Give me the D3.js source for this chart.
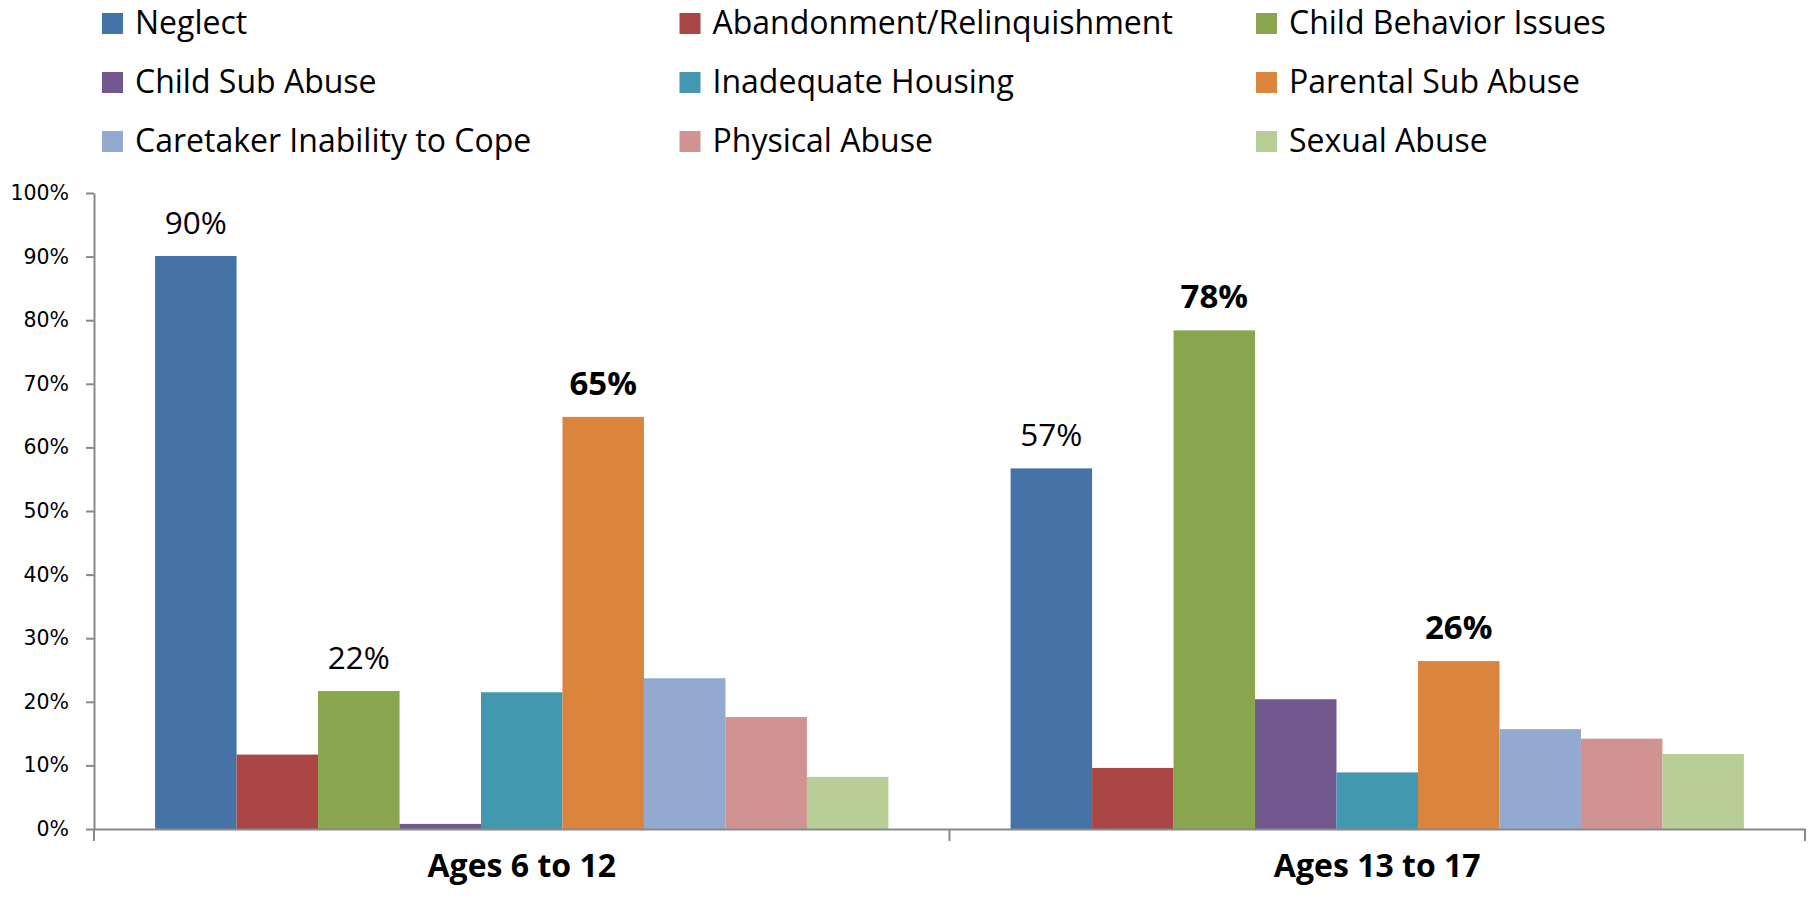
<!DOCTYPE html>
<html><head><meta charset="utf-8">
<script src="https://cdn.jsdelivr.net/npm/d3@7"></script>
<style>html,body{margin:0;padding:0;background:#fff;}svg{display:block;}</style>
</head><body>
<svg id="chart" width="1810" height="899"></svg>
<script>
const categories = ["Ages 6 to 12", "Ages 13 to 17"];
const series = ["Neglect", "Abandonment/Relinquishment", "Child Behavior Issues",
  "Child Sub Abuse", "Inadequate Housing", "Parental Sub Abuse",
  "Caretaker Inability to Cope", "Physical Abuse", "Sexual Abuse"];
const colors = ["#4572A7", "#AA4643", "#89A54E", "#71588F", "#4198AF", "#DB843D", "#93A9CF", "#D19392", "#B9CD96"];
const values6to12 = [0.901, 0.117, 0.217, 0.008, 0.215, 0.648, 0.237, 0.176, 0.082];
const values13to17 = [0.567, 0.096, 0.784, 0.204, 0.089, 0.264, 0.157, 0.142, 0.118];
const labeled6to12 = ["Neglect", "Child Behavior Issues", "Parental Sub Abuse"];
const bold6to12 = [false, false, true];
const labeled13to17 = ["Neglect", "Child Behavior Issues", "Parental Sub Abuse"];
const bold13to17 = [false, true, true];
const yTicks = [0, 0.1, 0.2, 0.3, 0.4, 0.5, 0.6, 0.7, 0.8, 0.9, 1.0];

const groupValues = [values6to12, values13to17];
const groupLabeled = [labeled6to12, labeled13to17];
const groupBold = [bold6to12, bold13to17];

const svg = d3.select("#chart");
const axisColor = "#898989";

const y = d3.scaleLinear().domain([0, 1]).range([829, 193]);
const x0 = d3.scaleBand().domain(categories).range([94, 1805]).paddingInner(0).paddingOuter(0);
const bw = x0.bandwidth() / 10.5;
const x1 = d3.scaleBand().domain(series).range([0.75 * bw, 0.75 * bw + 9 * bw]).padding(0);
const color = d3.scaleOrdinal().domain(series).range(colors);

// Legend
const legendCols = [102, 679.5, 1256];
const legendRows = [13, 72, 131];
const legend = svg.append("g");
series.forEach((s, i) => {
  const cx = legendCols[i % 3], ry = legendRows[Math.floor(i / 3)];
  legend.append("rect").attr("x", cx).attr("y", ry).attr("width", 21).attr("height", 21).attr("fill", color(s));
  legend.append("text").attr("x", cx + 33).attr("y", ry + 21)
    .attr("font-family", "Open Sans").attr("font-size", 32).attr("fill", "#000").text(s);
});

// Bars
categories.forEach((c, gi) => {
  const g = svg.append("g").attr("transform", `translate(${x0(c)},0)`);
  g.selectAll("rect").data(series.map((s, i) => ({ s, v: groupValues[gi][i] })))
    .join("rect")
    .attr("x", d => x1(d.s))
    .attr("y", d => y(d.v))
    .attr("width", x1.bandwidth())
    .attr("height", d => y(0) - y(d.v))
    .attr("fill", d => color(d.s));
  groupLabeled[gi].forEach((s, li) => {
    const v = groupValues[gi][series.indexOf(s)];
    const bold = groupBold[gi][li];
    g.append("text")
      .attr("x", x1(s) + x1.bandwidth() / 2)
      .attr("y", y(v) - 22)
      .attr("text-anchor", "middle")
      .attr("font-family", "Open Sans")
      .attr("font-weight", bold ? "bold" : "normal")
      .attr("font-size", bold ? 33 : 31.5)
      .attr("fill", "#000")
      .text(d3.format(".0%")(v));
  });
});

// Y axis
const yAxis = svg.append("g").attr("transform", "translate(94,0)")
  .call(d3.axisLeft(y).tickValues(yTicks).tickFormat(d3.format(".0%")).tickSize(8).tickSizeOuter(0).tickPadding(17));
yAxis.select(".domain").attr("stroke", axisColor).attr("stroke-width", 2);
yAxis.selectAll(".tick line").attr("stroke", axisColor).attr("stroke-width", 2);
yAxis.selectAll(".tick text").attr("font-family", "DejaVu Sans").attr("font-size", 20.5).attr("fill", "#000");

// X axis
const xAxis = svg.append("g").attr("transform", `translate(0,${y(0)})`)
  .call(d3.axisBottom(x0).tickSize(0).tickSizeOuter(0).tickPadding(48));
xAxis.select(".domain").attr("stroke", axisColor).attr("stroke-width", 2);
xAxis.selectAll(".tick text").attr("font-family", "Open Sans").attr("font-weight", "bold")
  .attr("font-size", 32).attr("fill", "#000").attr("dy", "0");
const boundaries = categories.map(c => x0(c)).concat([x0.range()[1]]);
xAxis.selectAll("line.bound").data(boundaries).join("line").attr("class", "bound")
  .attr("x1", d => d).attr("x2", d => d).attr("y1", 0).attr("y2", 12)
  .attr("stroke", axisColor).attr("stroke-width", 2);
</script>
</body></html>
